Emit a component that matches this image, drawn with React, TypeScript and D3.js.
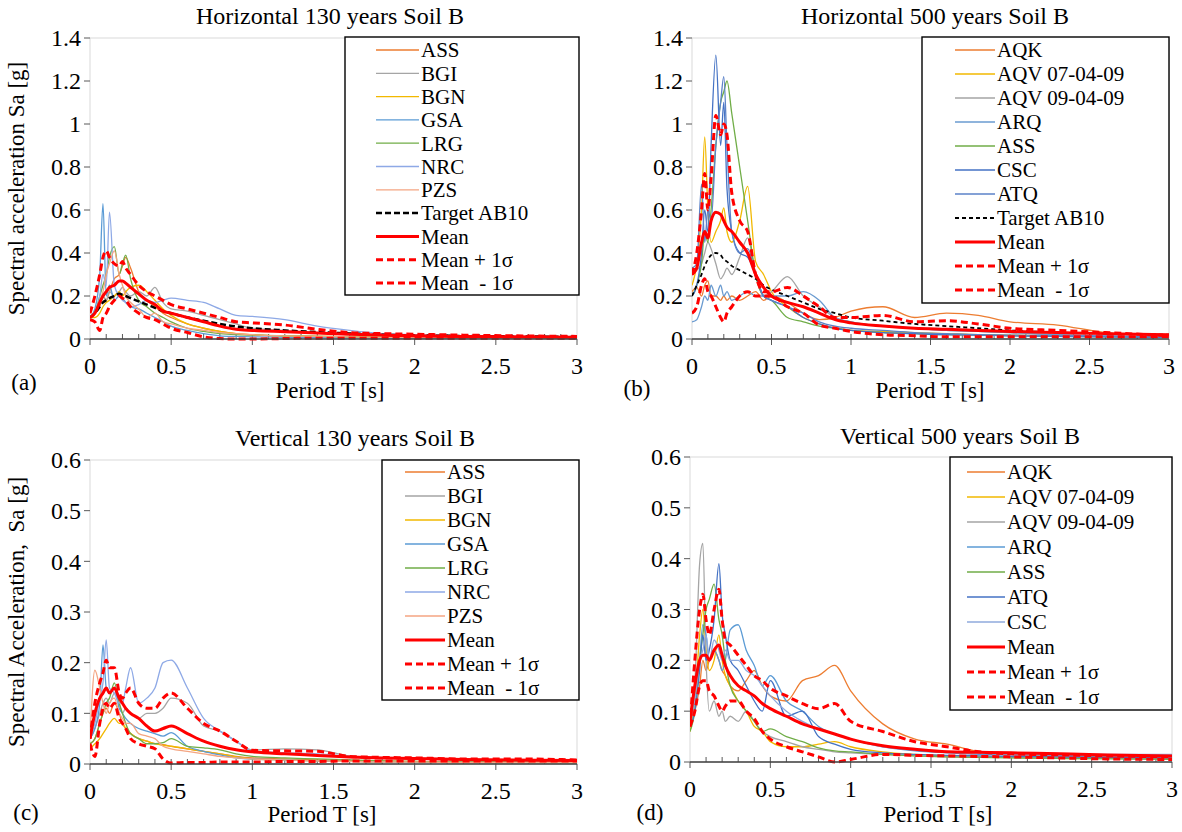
import React from 'react';
import * as d3 from 'd3';

// periods [s] shared by every spectrum
const PERIODS = [0, 0.03, 0.06, 0.08, 0.1, 0.12, 0.15, 0.18, 0.2, 0.22, 0.25, 0.3, 0.35, 0.4, 0.45, 0.5, 0.6, 0.7, 0.8, 0.9, 1.0, 1.2, 1.4, 1.6, 1.8, 2.0, 2.3, 2.6, 3.0];
const X_TICKS = [0, 0.5, 1, 1.5, 2, 2.5, 3];

// (a) horizontal 130 years
const aASS = [0.1, 0.12, 0.15, 0.2, 0.18, 0.22, 0.28, 0.3, 0.34, 0.38, 0.33, 0.22, 0.18, 0.15, 0.12, 0.1, 0.07, 0.05, 0.035, 0.025, 0.02, 0.015, 0.012, 0.01, 0.008, 0.007, 0.006, 0.005, 0.004];
const aBGI = [0.1, 0.12, 0.16, 0.2, 0.18, 0.22, 0.2, 0.22, 0.24, 0.22, 0.2, 0.22, 0.2, 0.24, 0.17, 0.14, 0.13, 0.11, 0.09, 0.07, 0.05, 0.04, 0.03, 0.02, 0.015, 0.012, 0.01, 0.008, 0.006];
const aBGN = [0.1, 0.1, 0.12, 0.15, 0.17, 0.18, 0.2, 0.22, 0.2, 0.22, 0.24, 0.25, 0.22, 0.18, 0.14, 0.11, 0.07, 0.05, 0.035, 0.025, 0.02, 0.015, 0.012, 0.01, 0.008, 0.007, 0.006, 0.005, 0.004];
const aGSA = [0.1, 0.14, 0.3, 0.63, 0.2, 0.25, 0.18, 0.2, 0.19, 0.17, 0.15, 0.14, 0.12, 0.1, 0.08, 0.06, 0.04, 0.025, 0.015, 0.012, 0.01, 0.008, 0.006, 0.005, 0.004, 0.004, 0.003, 0.003, 0.002];
const aLRG = [0.1, 0.12, 0.2, 0.25, 0.3, 0.38, 0.43, 0.3, 0.35, 0.39, 0.28, 0.18, 0.15, 0.12, 0.1, 0.08, 0.05, 0.035, 0.025, 0.02, 0.018, 0.015, 0.012, 0.01, 0.008, 0.007, 0.006, 0.005, 0.004];
const aNRC = [0.1, 0.12, 0.2, 0.3, 0.25, 0.59, 0.25, 0.2, 0.18, 0.17, 0.15, 0.16, 0.18, 0.17, 0.18, 0.19, 0.18, 0.17, 0.14, 0.11, 0.105, 0.09, 0.06, 0.04, 0.025, 0.02, 0.015, 0.012, 0.01];
const aPZS = [0.1, 0.12, 0.18, 0.22, 0.3, 0.35, 0.41, 0.3, 0.25, 0.2, 0.17, 0.14, 0.1, 0.12, 0.08, 0.07, 0.05, 0.04, 0.03, 0.025, 0.02, 0.015, 0.012, 0.01, 0.008, 0.007, 0.006, 0.005, 0.004];
const aTarget = [0.1, 0.12, 0.15, 0.17, 0.18, 0.19, 0.2, 0.21, 0.205, 0.2, 0.19, 0.175, 0.16, 0.145, 0.13, 0.12, 0.1, 0.085, 0.07, 0.058, 0.05, 0.04, 0.032, 0.026, 0.02, 0.017, 0.014, 0.012, 0.01];
const aMean = [0.1, 0.12, 0.17, 0.2, 0.22, 0.24, 0.25, 0.27, 0.27, 0.26, 0.24, 0.21, 0.18, 0.16, 0.13, 0.12, 0.1, 0.08, 0.06, 0.045, 0.04, 0.034, 0.028, 0.022, 0.018, 0.015, 0.012, 0.01, 0.008];
const aPlus = [0.12, 0.2, 0.3, 0.38, 0.41, 0.38, 0.35, 0.34, 0.36, 0.33, 0.3, 0.25, 0.22, 0.2, 0.18, 0.16, 0.14, 0.12, 0.1, 0.08, 0.075, 0.065, 0.045, 0.03, 0.025, 0.022, 0.018, 0.015, 0.012];
const aMinus = [0.09, 0.08, 0.04, 0.1, 0.12, 0.15, 0.18, 0.2, 0.19, 0.18, 0.15, 0.12, 0.1, 0.09, 0.07, 0.05, 0.03, 0.01, 0.002, 0, 0, 0.002, 0.004, 0.004, 0.004, 0.004, 0.003, 0.003, 0.003];

// (b) horizontal 500 years
const bAQK = [0.22, 0.24, 0.2, 0.25, 0.27, 0.2, 0.2, 0.18, 0.2, 0.18, 0.2, 0.18, 0.2, 0.22, 0.18, 0.2, 0.17, 0.12, 0.09, 0.1, 0.13, 0.15, 0.1, 0.12, 0.11, 0.08, 0.065, 0.03, 0.015];
const bAQV07 = [0.25, 0.35, 0.6, 0.94, 0.6, 0.45, 0.5, 0.55, 0.61, 0.5, 0.45, 0.55, 0.71, 0.36, 0.3, 0.22, 0.15, 0.1, 0.07, 0.05, 0.04, 0.035, 0.03, 0.025, 0.02, 0.018, 0.015, 0.012, 0.01];
const bAQV09 = [0.3, 0.32, 0.35, 0.4, 0.45, 0.42, 0.35, 0.28, 0.3, 0.33, 0.3, 0.38, 0.47, 0.3, 0.2, 0.22, 0.29, 0.2, 0.15, 0.1, 0.08, 0.06, 0.05, 0.04, 0.035, 0.03, 0.02, 0.015, 0.01];
const bARQ = [0.08, 0.09, 0.15, 0.2, 0.18, 0.25, 0.2, 0.25, 0.2, 0.22, 0.18, 0.2, 0.22, 0.2, 0.2, 0.2, 0.2, 0.22, 0.18, 0.1, 0.08, 0.06, 0.05, 0.04, 0.035, 0.03, 0.02, 0.015, 0.01];
const bASS = [0.2, 0.25, 0.35, 0.5, 0.45, 0.6, 0.9, 1.1, 1.15, 1.2, 1.05, 0.8, 0.55, 0.3, 0.2, 0.18, 0.1, 0.08, 0.06, 0.05, 0.04, 0.03, 0.025, 0.02, 0.018, 0.015, 0.012, 0.01, 0.008];
const bCSC = [0.2, 0.25, 0.4, 0.6, 0.5, 0.9, 1.32, 0.9, 1.1, 0.7, 0.5, 0.4, 0.38, 0.3, 0.2, 0.18, 0.15, 0.1, 0.07, 0.05, 0.04, 0.03, 0.025, 0.02, 0.018, 0.015, 0.012, 0.01, 0.008];
const bATQ = [0.33, 0.35, 0.72, 0.45, 0.6, 0.55, 0.9, 1.1, 1.22, 0.9, 0.5, 0.4, 0.42, 0.3, 0.2, 0.18, 0.15, 0.12, 0.08, 0.06, 0.05, 0.04, 0.03, 0.025, 0.02, 0.018, 0.015, 0.012, 0.01];
const bTarget = [0.2, 0.25, 0.3, 0.34, 0.37, 0.39, 0.4, 0.39, 0.37, 0.36, 0.34, 0.32, 0.3, 0.28, 0.25, 0.23, 0.2, 0.17, 0.14, 0.12, 0.1, 0.085, 0.07, 0.06, 0.05, 0.04, 0.03, 0.025, 0.02];
const bMean = [0.3, 0.33, 0.45, 0.5, 0.47, 0.55, 0.59, 0.58, 0.55, 0.52, 0.5, 0.45, 0.4, 0.3, 0.24, 0.2, 0.17, 0.15, 0.12, 0.09, 0.075, 0.06, 0.05, 0.045, 0.04, 0.035, 0.03, 0.025, 0.02];
const bPlus = [0.3, 0.4, 0.6, 0.77, 0.6, 0.75, 1.04, 0.95, 1.0, 0.95, 0.68, 0.55, 0.5, 0.3, 0.22, 0.22, 0.24, 0.2, 0.15, 0.1, 0.1, 0.11, 0.08, 0.085, 0.07, 0.05, 0.04, 0.03, 0.015];
const bMinus = [0.12, 0.15, 0.25, 0.28, 0.22, 0.2, 0.15, 0.1, 0.08, 0.12, 0.15, 0.2, 0.22, 0.2, 0.2, 0.2, 0.15, 0.12, 0.065, 0.05, 0.035, 0.02, 0.015, 0.01, 0.01, 0.01, 0.01, 0.01, 0.01];

// (c) vertical 130 years
const cASS = [0.04, 0.05, 0.08, 0.1, 0.11, 0.1, 0.12, 0.1, 0.08, 0.07, 0.06, 0.05, 0.045, 0.04, 0.038, 0.035, 0.03, 0.025, 0.02, 0.015, 0.012, 0.01, 0.008, 0.007, 0.006, 0.005, 0.004, 0.004, 0.003];
const cBGI = [0.05, 0.07, 0.1, 0.12, 0.13, 0.12, 0.14, 0.12, 0.1, 0.11, 0.1, 0.09, 0.1, 0.1, 0.11, 0.13, 0.12, 0.075, 0.065, 0.045, 0.028, 0.03, 0.028, 0.016, 0.012, 0.01, 0.008, 0.007, 0.005];
const cBGN = [0.03, 0.04, 0.05, 0.06, 0.07, 0.08, 0.09, 0.08, 0.08, 0.07, 0.06, 0.05, 0.045, 0.04, 0.037, 0.035, 0.03, 0.025, 0.02, 0.014, 0.01, 0.008, 0.006, 0.005, 0.004, 0.004, 0.003, 0.003, 0.003];
const cGSA = [0.05, 0.07, 0.12, 0.235, 0.15, 0.14, 0.15, 0.11, 0.1, 0.09, 0.08, 0.07, 0.065, 0.06, 0.055, 0.062, 0.035, 0.025, 0.018, 0.012, 0.01, 0.008, 0.006, 0.005, 0.004, 0.004, 0.003, 0.003, 0.003];
const cLRG = [0.04, 0.05, 0.08, 0.1, 0.12, 0.13, 0.16, 0.12, 0.1, 0.08, 0.06, 0.05, 0.04, 0.04, 0.042, 0.05, 0.035, 0.032, 0.028, 0.02, 0.015, 0.012, 0.01, 0.008, 0.006, 0.005, 0.004, 0.004, 0.003];
const cNRC = [0.05, 0.08, 0.13, 0.16, 0.245, 0.15, 0.14, 0.12, 0.12, 0.15, 0.19, 0.12, 0.13, 0.15, 0.2, 0.205, 0.15, 0.09, 0.065, 0.045, 0.025, 0.022, 0.02, 0.015, 0.012, 0.01, 0.008, 0.007, 0.006];
const cPZS = [0.05, 0.185, 0.15, 0.12, 0.1, 0.12, 0.13, 0.1, 0.09, 0.08, 0.08, 0.06, 0.055, 0.05, 0.035, 0.03, 0.025, 0.02, 0.015, 0.012, 0.01, 0.008, 0.006, 0.005, 0.004, 0.004, 0.003, 0.003, 0.003];
const cMean = [0.05, 0.1, 0.13, 0.14, 0.15, 0.14, 0.15, 0.13, 0.12, 0.11, 0.1, 0.09, 0.075, 0.065, 0.07, 0.075, 0.06, 0.045, 0.035, 0.028, 0.024, 0.02, 0.017, 0.014, 0.012, 0.011, 0.009, 0.008, 0.007];
const cPlus = [0.05, 0.12, 0.16, 0.18, 0.205, 0.19, 0.19, 0.14, 0.13, 0.14, 0.15, 0.12, 0.11, 0.11, 0.13, 0.14, 0.11, 0.08, 0.065, 0.045, 0.027, 0.026, 0.025, 0.015, 0.013, 0.012, 0.01, 0.01, 0.008];
const cMinus = [0.04, 0.015, 0.08, 0.11, 0.12, 0.11, 0.12, 0.09, 0.08, 0.07, 0.05, 0.04, 0.035, 0.03, 0.01, 0.002, 0.003, 0.003, 0.004, 0.004, 0.004, 0.005, 0.005, 0.006, 0.006, 0.006, 0.006, 0.006, 0.006];

// (d) vertical 500 years
const dAQK = [0.08, 0.1, 0.15, 0.2, 0.18, 0.2, 0.22, 0.2, 0.18, 0.17, 0.15, 0.14, 0.16, 0.18, 0.15, 0.13, 0.12, 0.16, 0.17, 0.19, 0.14, 0.075, 0.045, 0.035, 0.02, 0.015, 0.012, 0.01, 0.008];
const dAQV07 = [0.06, 0.12, 0.25, 0.3, 0.22, 0.18, 0.2, 0.25, 0.2, 0.17, 0.15, 0.12, 0.1, 0.07, 0.06, 0.04, 0.03, 0.03, 0.035, 0.04, 0.03, 0.02, 0.015, 0.012, 0.01, 0.009, 0.008, 0.007, 0.006];
const dAQV09 = [0.07, 0.15, 0.39, 0.43, 0.2, 0.1, 0.12, 0.09, 0.1, 0.08, 0.09, 0.08, 0.1, 0.08, 0.06, 0.05, 0.04, 0.03, 0.025, 0.02, 0.018, 0.015, 0.012, 0.01, 0.01, 0.009, 0.008, 0.007, 0.006];
const dARQ = [0.08, 0.12, 0.2, 0.27, 0.25, 0.2, 0.22, 0.2, 0.18, 0.2, 0.26, 0.27, 0.22, 0.19, 0.15, 0.17, 0.12, 0.1, 0.07, 0.055, 0.045, 0.03, 0.022, 0.018, 0.015, 0.014, 0.013, 0.012, 0.012];
const dASS = [0.06, 0.1, 0.2, 0.25, 0.3, 0.32, 0.35, 0.28, 0.25, 0.2, 0.15, 0.12, 0.1, 0.08, 0.06, 0.065, 0.05, 0.04, 0.028, 0.022, 0.02, 0.015, 0.012, 0.01, 0.009, 0.008, 0.007, 0.006, 0.005];
const dATQ = [0.07, 0.1, 0.18, 0.25, 0.2, 0.22, 0.28, 0.39, 0.29, 0.25, 0.2, 0.18, 0.15, 0.12, 0.1, 0.16, 0.09, 0.1, 0.05, 0.035, 0.025, 0.018, 0.015, 0.013, 0.012, 0.011, 0.01, 0.009, 0.008];
const dCSC = [0.08, 0.12, 0.2, 0.22, 0.25, 0.2, 0.24, 0.22, 0.2, 0.22, 0.2, 0.2, 0.18, 0.17, 0.15, 0.13, 0.1, 0.08, 0.065, 0.055, 0.045, 0.03, 0.025, 0.02, 0.018, 0.016, 0.015, 0.015, 0.015];
const dMean = [0.08, 0.15, 0.2, 0.21, 0.21, 0.2, 0.22, 0.23, 0.21, 0.19, 0.17, 0.15, 0.14, 0.13, 0.115, 0.105, 0.09, 0.075, 0.065, 0.055, 0.045, 0.032, 0.025, 0.02, 0.019, 0.018, 0.016, 0.014, 0.012];
const dPlus = [0.07, 0.2, 0.3, 0.33, 0.28, 0.25, 0.3, 0.34, 0.28, 0.24, 0.23, 0.21, 0.19, 0.17, 0.16, 0.145, 0.13, 0.115, 0.105, 0.115, 0.08, 0.06, 0.04, 0.03, 0.02, 0.016, 0.014, 0.012, 0.01];
const dMinus = [0.07, 0.1, 0.15, 0.16, 0.16, 0.14, 0.13, 0.11, 0.1, 0.11, 0.12, 0.12, 0.1, 0.085, 0.06, 0.045, 0.03, 0.02, 0.01, 0.0, 0.005, 0.015, 0.013, 0.012, 0.011, 0.01, 0.008, 0.006, 0.005];

const ORANGE = '#ED7D31';
const GRAY = '#A5A5A5';
const GOLD = '#F2B800';
const BLUE = '#5B9BD5';
const GREEN = '#70AD47';
const DARKBLUE = '#4472C4';
const RED = '#FF0000';

const rec = (name, values, color) => ({ name, values, color, width: 1.3, dash: null });
const stats = (mean, plus, minus) => [
  { name: 'Mean', values: mean, color: RED, width: 3, dash: null },
  { name: 'Mean + 1σ', values: plus, color: RED, width: 3, dash: '7,4' },
  { name: 'Mean  - 1σ', values: minus, color: RED, width: 3, dash: '7,4' },
];

const panels = [
  {
    tag: '(a)', title: 'Horizontal 130 years Soil B', yLabel: 'Spectral acceleration Sa [g]',
    left: 90, right: 577, top: 38, bottom: 339, yMax: 1.4, yStep: 0.2,
    titleX: 330, titleY: 24, tagX: 24, tagY: 390, xLabelX: 330, xLabelY: 398,
    legend: { x: 345, y: 37, w: 234, h: 258, lx1: 376, lx2: 419, tx: 421, y0: 50, step: 23.3 },
    series: [
      rec('ASS', aASS, ORANGE), rec('BGI', aBGI, GRAY), rec('BGN', aBGN, GOLD), rec('GSA', aGSA, BLUE),
      rec('LRG', aLRG, GREEN), rec('NRC', aNRC, '#8EA9E6'), rec('PZS', aPZS, '#F4A582'),
      { name: 'Target AB10', values: aTarget, color: '#000', width: 2.5, dash: '6,3' },
      ...stats(aMean, aPlus, aMinus),
    ],
  },
  {
    tag: '(b)', title: 'Horizontal 500 years Soil B', yLabel: null,
    left: 692, right: 1169, top: 38, bottom: 339, yMax: 1.4, yStep: 0.2,
    titleX: 935, titleY: 24, tagX: 637, tagY: 396, xLabelX: 930, xLabelY: 398,
    legend: { x: 922, y: 37, w: 247, h: 266, lx1: 955, lx2: 995, tx: 997, y0: 50, step: 24 },
    series: [
      rec('AQK', bAQK, ORANGE), rec('AQV 07-04-09', bAQV07, GOLD), rec('AQV 09-04-09', bAQV09, GRAY),
      rec('ARQ', bARQ, '#6A9BD0'), rec('ASS', bASS, GREEN), rec('CSC', bCSC, DARKBLUE), rec('ATQ', bATQ, '#5B82C8'),
      { name: 'Target AB10', values: bTarget, color: '#000', width: 1.8, dash: '4,3' },
      ...stats(bMean, bPlus, bMinus),
    ],
  },
  {
    tag: '(c)', title: 'Vertical 130 years Soil B', yLabel: 'Spectral Acceleration,  Sa [g]',
    left: 90, right: 577, top: 460, bottom: 764, yMax: 0.6, yStep: 0.1,
    titleX: 355, titleY: 446, tagX: 26, tagY: 820, xLabelX: 322, xLabelY: 822,
    legend: { x: 382, y: 460, w: 197, h: 240, lx1: 405, lx2: 445, tx: 447, y0: 472, step: 24 },
    series: [
      rec('ASS', cASS, ORANGE), rec('BGI', cBGI, GRAY), rec('BGN', cBGN, GOLD), rec('GSA', cGSA, BLUE),
      rec('LRG', cLRG, GREEN), rec('NRC', cNRC, '#8EA9E6'), rec('PZS', cPZS, '#F4A582'),
      ...stats(cMean, cPlus, cMinus),
    ],
  },
  {
    tag: '(d)', title: 'Vertical 500 years Soil B', yLabel: null,
    left: 690, right: 1172, top: 457, bottom: 762, yMax: 0.6, yStep: 0.1,
    titleX: 960, titleY: 444, tagX: 650, tagY: 820, xLabelX: 938, xLabelY: 822,
    legend: { x: 950, y: 457, w: 222, h: 253, lx1: 967, lx2: 1005, tx: 1007, y0: 472, step: 25 },
    series: [
      rec('AQK', dAQK, ORANGE), rec('AQV 07-04-09', dAQV07, GOLD), rec('AQV 09-04-09', dAQV09, GRAY),
      rec('ARQ', dARQ, BLUE), rec('ASS', dASS, GREEN), rec('ATQ', dATQ, DARKBLUE), rec('CSC', dCSC, '#8FAADC'),
      ...stats(dMean, dPlus, dMinus),
    ],
  },
];

const fmt = (v) => String(+v.toFixed(2));
const FONT = 'Liberation Serif';

function Label({ children, ...rest }) {
  return (
    <text fontFamily={FONT} fill="#000" style={{ whiteSpace: 'pre' }} {...rest}>
      {children}
    </text>
  );
}

function SpectraPanel({ p, idx }) {
  const x = d3.scaleLinear().domain([0, 3]).range([p.left, p.right]);
  const y = d3.scaleLinear().domain([0, p.yMax]).range([p.bottom, p.top]);
  const line = d3
    .line()
    .x((_, i) => x(PERIODS[i]))
    .y((d) => y(d))
    .curve(d3.curveMonotoneX);
  const yTicks = d3.range(0, p.yMax + 1e-9, p.yStep);
  const minor = d3.range(1, 30).map((i) => i / 10);
  const clipId = `clip-${idx}`;
  const lg = p.legend;

  return (
    <g>
      <clipPath id={clipId}>
        <rect x={p.left} y={p.top} width={p.right - p.left} height={p.bottom - p.top + 2} />
      </clipPath>
      <rect x={p.left} y={p.top} width={p.right - p.left} height={p.bottom - p.top} fill="none" stroke="#D9D9D9" />
      {yTicks.map((t) => (
        <g key={t}>
          <line x1={p.left - 6} x2={p.left} y1={y(t)} y2={y(t)} stroke="#595959" />
          <Label x={p.left - 9} y={y(t)} dy="0.35em" textAnchor="end" fontSize={24}>
            {fmt(t)}
          </Label>
        </g>
      ))}
      {minor.map((t) => (
        <line key={t} x1={x(t)} x2={x(t)} y1={p.bottom} y2={p.bottom - 5} stroke="#595959" />
      ))}
      {X_TICKS.map((t) => (
        <g key={t}>
          <line x1={x(t)} x2={x(t)} y1={p.bottom} y2={p.bottom + 6} stroke="#595959" />
          <Label x={x(t)} y={p.bottom + 35} textAnchor="middle" fontSize={24}>
            {fmt(t)}
          </Label>
        </g>
      ))}
      <g clipPath={`url(#${clipId})`}>
        {p.series.map((s) => (
          <path
            key={s.name}
            d={line(s.values)}
            fill="none"
            stroke={s.color}
            strokeWidth={s.width}
            strokeDasharray={s.dash || undefined}
            strokeLinejoin="round"
          />
        ))}
      </g>
      <line x1={p.left} x2={p.right} y1={p.bottom} y2={p.bottom} stroke="#404040" strokeWidth={1.3} />
      <rect x={lg.x} y={lg.y} width={lg.w} height={lg.h} fill="#fff" stroke="#000" strokeWidth={1.4} />
      {p.series.map((s, i) => (
        <g key={s.name}>
          <line
            x1={lg.lx1}
            x2={lg.lx2}
            y1={lg.y0 + i * lg.step}
            y2={lg.y0 + i * lg.step}
            stroke={s.color}
            strokeWidth={s.width}
            strokeDasharray={s.dash || undefined}
          />
          <Label x={lg.tx} y={lg.y0 + i * lg.step} dy="0.35em" fontSize={21}>
            {s.name}
          </Label>
        </g>
      ))}
      <Label x={p.titleX} y={p.titleY} textAnchor="middle" fontSize={24}>
        {p.title}
      </Label>
      <Label x={p.xLabelX} y={p.xLabelY} textAnchor="middle" fontSize={23}>
        Period T [s]
      </Label>
      <Label x={p.tagX} y={p.tagY} textAnchor="middle" fontSize={23}>
        {p.tag}
      </Label>
      {p.yLabel && (
        <Label transform={`translate(24,${(p.top + p.bottom) / 2}) rotate(-90)`} textAnchor="middle" fontSize={23}>
          {p.yLabel}
        </Label>
      )}
    </g>
  );
}

export default function App() {
  return (
    <svg width={1182} height={832} style={{ position: 'absolute', left: 0, top: 0, background: '#fff' }}>
      {panels.map((p, i) => (
        <SpectraPanel key={p.tag} p={p} idx={i} />
      ))}
    </svg>
  );
}
